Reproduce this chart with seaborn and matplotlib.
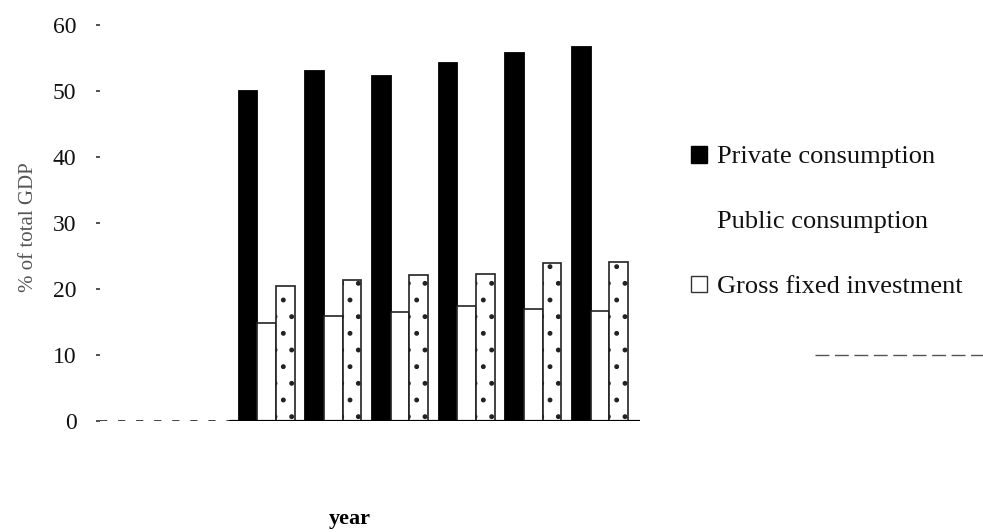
import matplotlib
matplotlib.use("Agg")
import matplotlib.pyplot as plt
from matplotlib.patches import Patch
from matplotlib.lines import Line2D
import seaborn as sns
import pandas as pd

# Shares of GDP by expenditure component, six consecutive periods
periods = ["1", "2", "3", "4", "5", "6"]
private_consumption = [50.0, 53.0, 52.3, 54.3, 55.8, 56.7]
public_consumption = [14.8, 15.9, 16.5, 17.4, 17.0, 16.7]
gross_fixed_investment = [20.5, 21.4, 22.1, 22.3, 23.9, 24.1]
series_names = ["Private consumption", "Public consumption", "Gross fixed investment"]

df = pd.DataFrame({
    "period": periods * 3,
    "component": [series_names[0]] * 6 + [series_names[1]] * 6 + [series_names[2]] * 6,
    "share": private_consumption + public_consumption + gross_fixed_investment,
})

sns.set_theme(style="white")
plt.rcParams["font.family"] = ["Liberation Serif", "DejaVu Serif"]
plt.rcParams["hatch.linewidth"] = 1.1

fig = plt.figure(figsize=(9.83, 5.32), dpi=100)
ax = fig.add_axes([100 / 983, 1 - 421 / 532, 540 / 983, 396 / 532])

sns.barplot(data=df, x="period", y="share", hue="component",
            palette=["black", "white", "white"], width=0.84, gap=0,
            edgecolor="black", linewidth=1.3, saturation=1,
            legend=False, ax=ax)

# Stippled fill for investment bars, plain outline for public consumption
for bar in ax.containers[1]:
    bar.set_edgecolor("#222222")
    bar.set_linewidth(1.2)
for bar in ax.containers[2]:
    bar.set_hatch(".")
    bar.set_edgecolor("#222222")
    bar.set_linewidth(1.2)

ax.set_xlim(-2.5, 5.6)
ax.set_ylim(0, 60)
ax.set_yticks([0, 10, 20, 30, 40, 50, 60])
ax.tick_params(axis="y", left=True, length=3, width=1.2, color="#333333",
               pad=14, labelsize=17, labelcolor="#111111")
ax.tick_params(axis="x", bottom=False, labelbottom=False)

for side in ["top", "right", "left", "bottom"]:
    ax.spines[side].set_visible(False)
# Baseline: broken on the empty left stretch, solid under the bars
ax.axhline(0, xmin=0.0, xmax=0.24, color="#333333", lw=1.3, ls=(0, (4, 6)))
ax.axhline(0, xmin=0.24, xmax=1.0, color="black", lw=1.6)

ax.set_ylabel("% of total GDP", fontsize=15, color="#555555")
ax.yaxis.set_label_coords(-0.115, 0.49)
ax.set_xlabel("year", fontsize=16, fontweight="bold", color="black")
ax.xaxis.set_label_coords((350 - 100) / 540, -0.222)

handles = [
    Patch(facecolor="black", edgecolor="black"),
    Patch(facecolor="white", edgecolor="none"),
    Patch(facecolor="white", edgecolor="#333333", linewidth=1.0),
]
fig.legend(handles, series_names, loc="upper left",
           bbox_to_anchor=(667 / 983, 1 - 122 / 532), frameon=False,
           fontsize=19, labelspacing=1.6, handlelength=0.6,
           handleheight=0.6, handletextpad=0.4, labelcolor="#111111")

fig.add_artist(Line2D([815 / 983, 1.0], [1 - 355 / 532] * 2,
                      transform=fig.transFigure, color="#555555",
                      lw=1.0, ls=(0, (10, 4))))

fig.savefig("out.png", dpi=100, facecolor="white")
